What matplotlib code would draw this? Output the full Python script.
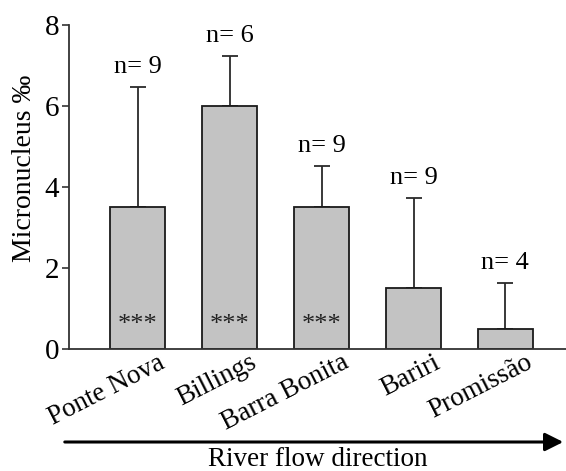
import matplotlib
matplotlib.use("Agg")
import matplotlib.pyplot as plt
import matplotlib.transforms as mtransforms
import numpy as np

sites = ["Ponte Nova", "Billings", "Barra Bonita", "Bariri", "Promissão"]
means = [3.5, 6.0, 3.5, 1.5, 0.5]
upper = [6.48, 7.24, 4.53, 3.74, 1.62]
n_labels = ["n= 9", "n= 6", "n= 9", "n= 9", "n= 4"]
signif = ["***", "***", "***", "", ""]
yticks = [0, 2, 4, 6, 8]

plt.rcParams['font.family'] = ['Liberation Serif', 'DejaVu Serif']

fig = plt.figure(figsize=(5.66, 4.71), dpi=100)
ax = fig.add_axes([69/566, 1-349/471, 1-69/566, (349-25)/471])

x = np.arange(len(sites))
err = np.array(upper) - np.array(means)
ax.bar(x, means, width=0.6, color='#c3c3c3', edgecolor='#1a1a1a', linewidth=1.3, zorder=2)
ax.errorbar(x, means, yerr=[np.zeros_like(err), err], fmt='none', ecolor='#2a2a2a',
            elinewidth=1.3, capsize=6, capthick=1.3, zorder=1)

for xi, u, lab in zip(x, upper, n_labels):
    ax.text(xi, u + 0.22, lab, ha='center', va='bottom', fontsize=19)
for xi, s in zip(x, signif):
    if s:
        ax.text(xi, 0.6, s, ha='center', va='center', fontsize=19, color='#222222')

ax.set_xlim(-0.75, 4.66)
ax.set_ylim(0, 8)
ax.set_yticks(yticks)
ax.set_yticklabels([str(t) for t in yticks], fontsize=21)
ax.set_xticks(x)
ax.set_xticklabels([])
base = mtransforms.blended_transform_factory(ax.transData, ax.transAxes)
offset = mtransforms.ScaledTranslation(20/100, -1/100, fig.dpi_scale_trans)
for xi, s in zip(x, sites):
    ax.text(xi, 0, s, transform=base + offset, fontsize=19.5, rotation=27,
            ha='right', va='top', rotation_mode='anchor', clip_on=False)
ax.tick_params(axis='x', length=0)
ax.tick_params(axis='y', length=5, width=1.2, direction='out', color='#333333', pad=2)
for sp in ['top', 'right']:
    ax.spines[sp].set_visible(False)
for sp in ['left', 'bottom']:
    ax.spines[sp].set_color('#333333')
    ax.spines[sp].set_linewidth(1.3)
ax.set_ylabel("Micronucleus ‰", fontsize=20)
ax.yaxis.set_label_coords(-32/497, (349-168)/324)

ax.annotate('', xy=(566/566, 1-442/471), xytext=(62/566, 1-442/471),
            xycoords='figure fraction', textcoords='figure fraction',
            arrowprops=dict(arrowstyle='-|>,head_length=1.1,head_width=0.55', color='black', lw=2.2))
fig.text(318/566, 1-460/471, "River flow direction", ha='center', va='center', fontsize=19.5)

fig.savefig("out.png", dpi=100)
